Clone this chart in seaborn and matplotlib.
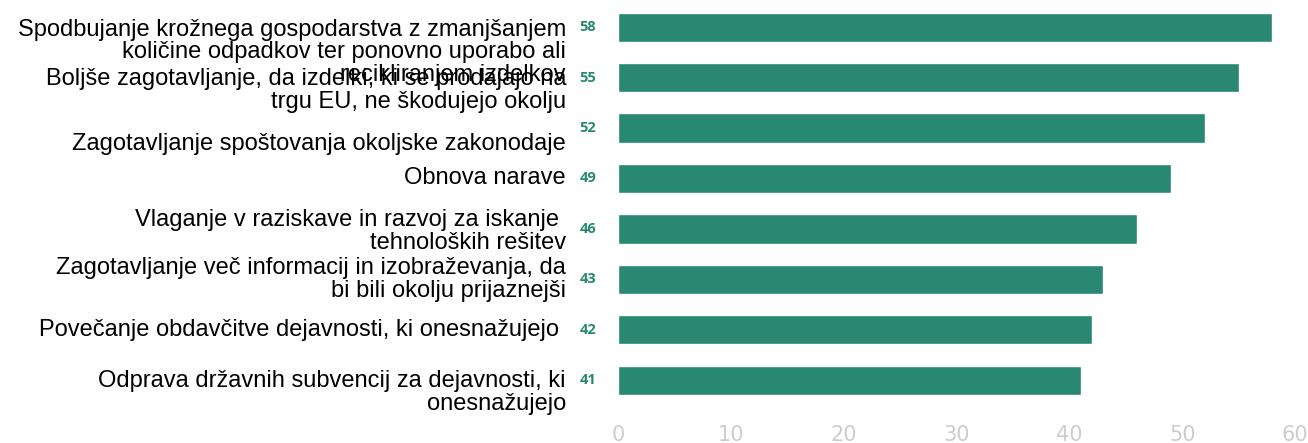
import pandas as pd
import seaborn as sns
import matplotlib.pyplot as plt
from matplotlib.transforms import blended_transform_factory

# Data
labels = [
    "Spodbujanje krožnega gospodarstva z zmanjšanjem\nkoličine odpadkov ter ponovno uporabo ali\nrecikliranjem izdelkov",
    "Boljše zagotavljanje, da izdelki, ki se prodajajo na\ntrgu EU, ne škodujejo okolju",
    "Zagotavljanje spoštovanja okoljske zakonodaje",
    "Obnova narave",
    "Vlaganje v raziskave in razvoj za iskanje \ntehnoloških rešitev",
    "Zagotavljanje več informacij in izobraževanja, da\nbi bili okolju prijaznejši",
    "Povečanje obdavčitve dejavnosti, ki onesnažujejo ",
    "Odprava državnih subvencij za dejavnosti, ki\nonesnažujejo",
]
values = [58, 55, 52, 49, 46, 43, 42, 41]
x_ticks = [0, 10, 20, 30, 40, 50, 60]

df = pd.DataFrame({"label": labels, "value": values})

# label vertical shifts (layout only)
label_shift = [0.5, 0.25, 0.32, 0.0, 0.05, 0.0, 0.0, 0.25]

green = "#288872"

sns.set_style("white")
plt.rcParams['font.family'] = ['Liberation Sans', 'DejaVu Sans']

fig = plt.figure(figsize=(13.08, 4.43), dpi=100)
ax = fig.add_axes([618 / 1308, 1 - 418 / 443, (1295 - 618) / 1308, 418 / 443])

sns.barplot(data=df, x="value", y="label", orient="h", color=green,
            width=0.58, saturation=1, ax=ax)

ax.set_xlim(0, 60)
ax.set_ylim(7.75, -0.54)
ax.set_xticks(x_ticks)
ax.set_xticklabels([str(t) for t in x_ticks], color="#cdcdcd", fontsize=15,
                   family=['Liberation Sans Narrow', 'DejaVu Sans'])
ax.tick_params(axis='x', length=0, pad=5)
ax.set_yticks([])
ax.set_xlabel("")
ax.set_ylabel("")
sns.despine(ax=ax, left=True, bottom=True)

trans = blended_transform_factory(fig.transFigure, ax.transData)
for i, (lab, val) in enumerate(zip(labels, values)):
    ax.text(566 / 1308, i + label_shift[i], lab, transform=trans,
            ha="right", va="center", multialignment="right",
            fontsize=17, color="black", linespacing=1.05)
    ax.text(588 / 1308, i, str(val), transform=trans, ha="center",
            va="center", fontsize=10.5, fontweight="bold", color=green,
            family=['Open Sans', 'DejaVu Sans'])

fig.savefig("out.png", dpi=100)
